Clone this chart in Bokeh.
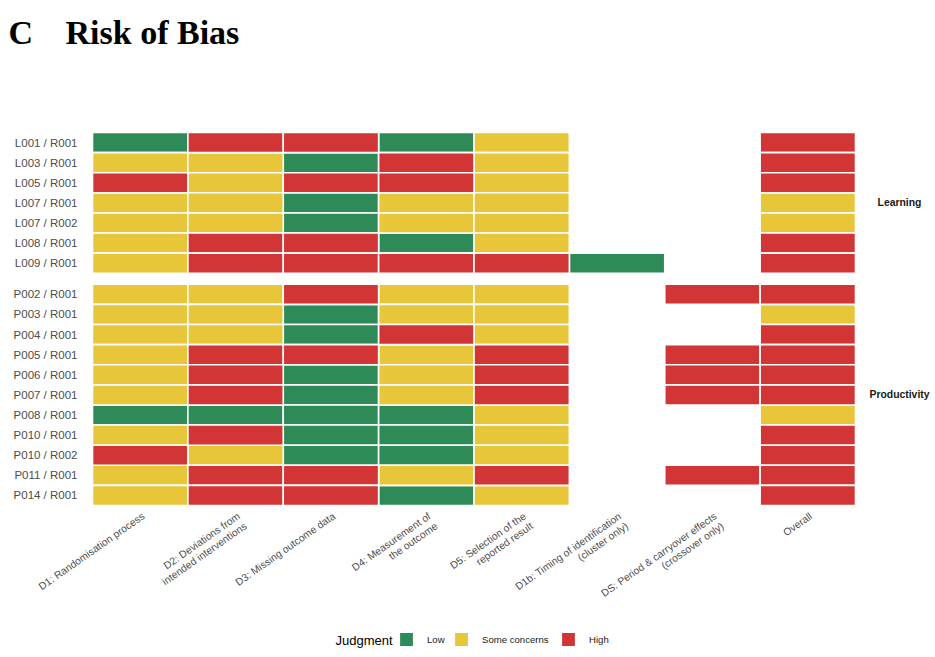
import math
from bokeh.plotting import figure
from bokeh.models import (ColumnDataSource, Range1d, Label, LabelSet, Legend, LegendItem)
from bokeh.core.properties import value
from bokeh.embed import file_html
from bokeh.resources import INLINE

# ---- data -------------------------------------------------------------
domains = [
    "D1: Randomisation process",
    "D2: Deviations from\nintended interventions",
    "D3: Missing outcome data",
    "D4: Measurement of\nthe outcome",
    "D5: Selection of the\nreported result",
    "D1b: Timing of identification\n(cluster only)",
    "DS: Period & carryover effects\n(crossover only)",
    "Overall",
]

# L = Low, S = Some concerns, H = High, "" = not assessed
learning_ids = ["L001 / R001", "L003 / R001", "L005 / R001", "L007 / R001",
                "L007 / R002", "L008 / R001", "L009 / R001"]
learning_rob = [
    ["L", "H", "H", "L", "S", "", "", "H"],
    ["S", "S", "L", "H", "S", "", "", "H"],
    ["H", "S", "H", "H", "S", "", "", "H"],
    ["S", "S", "L", "S", "S", "", "", "S"],
    ["S", "S", "L", "S", "S", "", "", "S"],
    ["S", "H", "H", "L", "S", "", "", "H"],
    ["S", "H", "H", "H", "H", "L", "", "H"],
]

productivity_ids = ["P002 / R001", "P003 / R001", "P004 / R001", "P005 / R001",
                    "P006 / R001", "P007 / R001", "P008 / R001", "P010 / R001",
                    "P010 / R002", "P011 / R001", "P014 / R001"]
productivity_rob = [
    ["S", "S", "H", "S", "S", "", "H", "H"],
    ["S", "S", "L", "S", "S", "", "", "S"],
    ["S", "S", "L", "H", "S", "", "", "H"],
    ["S", "H", "H", "S", "H", "", "H", "H"],
    ["S", "H", "L", "S", "H", "", "H", "H"],
    ["S", "H", "L", "S", "H", "", "H", "H"],
    ["L", "L", "L", "L", "S", "", "", "S"],
    ["S", "H", "L", "L", "S", "", "", "H"],
    ["H", "S", "L", "L", "S", "", "", "H"],
    ["S", "H", "H", "S", "H", "", "H", "H"],
    ["S", "H", "H", "L", "S", "", "", "H"],
]

groups = ["Learning", "Productivity"]
judgment_codes = ["L", "S", "H"]
judgment_labels = ["Low", "Some concerns", "High"]
judgment_colors = ["#2E8B57", "#E8C63A", "#D13535"]

# ---- layout helpers ---------------------------------------------------
W, H = 935, 657
LEFT, RIGHT, TOP, BOTTOM = 92, 855, 132, 505   # tile panel edges on the page
GAP = 0.55                       # space between the two panels, in row units
n_rows = len(learning_ids) + len(productivity_ids)
y_max = n_rows + GAP
n_cols = len(domains)
px_x = (RIGHT - LEFT) / n_cols   # pixels per column
px_y = (BOTTOM - TOP) / y_max    # pixels per row


def dx(px):
    return (px - LEFT) / px_x


def dy(py):
    return (BOTTOM - py) / px_y


# row centres: productivity panel at the bottom, learning panel on top
prod_y = [len(productivity_ids) - 0.5 - j for j in range(len(productivity_ids))]
learn_y = [y_max - 0.5 - i for i in range(len(learning_ids))]

tiles = {c: dict(x=[], y=[]) for c in judgment_codes}
for ys, table in ((learn_y, learning_rob), (prod_y, productivity_rob)):
    for yc, row in zip(ys, table):
        for ci, code in enumerate(row):
            if code:
                tiles[code]["x"].append(ci + 0.5)
                tiles[code]["y"].append(yc)

# ---- figure: the frame spans the whole page ---------------------------
p = figure(width=W, height=H, output_backend="svg", toolbar_location=None,
           x_range=Range1d(dx(0), dx(W)), y_range=Range1d(dy(H), dy(0)),
           min_border=0, x_axis_location=None, y_axis_location=None)
p.outline_line_color = None
p.grid.visible = False
p.background_fill_color = "white"
p.border_fill_color = "white"

renderers = []
for code, color in zip(judgment_codes, judgment_colors):
    r = p.rect(x="x", y="y", width=1, height=1, source=ColumnDataSource(tiles[code]),
               fill_color=color, line_color="white", line_width=1.6)
    renderers.append(r)

# row labels (study / report ids)
p.text(x=[-15 / px_x] * n_rows, y=learn_y + prod_y, text=learning_ids + productivity_ids,
       text_align="right", text_baseline="middle", text_font=value("Liberation Sans"),
       text_font_size="11.5px", text_color="#4D4D4D")

# domain labels, rotated 35 degrees; each line right-aligned on its own anchor
ANGLE = 35
LINE_PX = 12.0
sa, ca = math.sin(math.radians(ANGLE)), math.cos(math.radians(ANGLE))
lx, ly, lt = [], [], []
for ci, name in enumerate(domains):
    for k, line in enumerate(name.split("\n")):
        lx.append(ci + 0.5 + k * LINE_PX * sa / px_x)
        ly.append(dy(BOTTOM + 5) - k * LINE_PX * ca / px_y)
        lt.append(line)
p.add_layout(LabelSet(x="x", y="y", text="text", source=ColumnDataSource(dict(x=lx, y=ly, text=lt)),
                      angle=ANGLE, angle_units="deg", text_align="right", text_baseline="top",
                      text_font=value("Liberation Sans"), text_font_size="10.3px",
                      text_color="#4D4D4D"))

# panel strip labels
for g, ys in zip(groups, (learn_y, prod_y)):
    p.add_layout(Label(x=dx(899), y=sum(ys) / len(ys), text=g, text_align="center",
                       text_baseline="middle", text_font="Liberation Sans",
                       text_font_style="bold", text_font_size="10.4px",
                       text_color="#1A1A1A"))

# title
p.add_layout(Label(x=dx(8), y=dy(32), text="C", text_font="Liberation Serif",
                   text_font_style="bold", text_font_size="34px", text_color="black",
                   text_baseline="alphabetic"))
p.add_layout(Label(x=dx(65), y=dy(32), text="Risk of Bias", text_font="Liberation Serif",
                   text_font_style="bold", text_font_size="34px", text_color="black",
                   text_baseline="alphabetic"))

# legend: title plus one key per judgment
p.add_layout(Label(x=dx(335), y=dy(640), text="Judgment", text_font="Liberation Sans",
                   text_font_size="13px", text_color="black", text_baseline="middle"))
key_left = [397, 452, 559]
for lab, r, kx in zip(judgment_labels, renderers, key_left):
    p.add_layout(Legend(items=[LegendItem(label=lab, renderers=[r])],
                        orientation="horizontal", location=(kx, H - 648),
                        glyph_width=18, glyph_height=18, label_standoff=12,
                        padding=0, margin=0, border_line_color=None,
                        background_fill_alpha=0, label_text_font="Liberation Sans",
                        label_text_font_size="9.6px", label_text_color="#1A1A1A",
                        label_height=18))

open("out.html", "w").write(file_html(p, INLINE))
